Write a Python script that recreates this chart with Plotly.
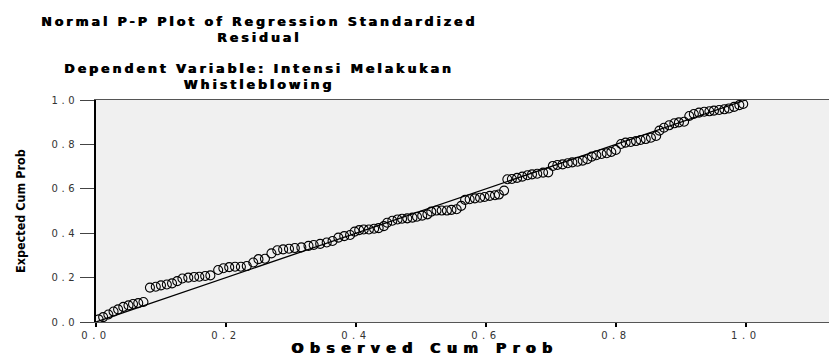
import plotly.graph_objects as go

# Observed cumulative probability of the standardized residuals
observed_cum_prob = [
    0.004, 0.011, 0.019, 0.027, 0.034, 0.042, 0.050, 0.057, 0.065, 0.073,
    0.083, 0.092, 0.100, 0.109, 0.117, 0.125, 0.133, 0.142, 0.151, 0.159,
    0.168, 0.176, 0.188, 0.196, 0.205, 0.214, 0.223, 0.232, 0.242, 0.250,
    0.260, 0.270, 0.279, 0.288, 0.297, 0.306, 0.316, 0.327, 0.335, 0.345,
    0.355, 0.364, 0.373, 0.382,
    0.391, 0.398, 0.405, 0.412, 0.420, 0.428, 0.435, 0.443, 0.448, 0.456,
    0.464, 0.471, 0.479, 0.487, 0.494, 0.502, 0.510, 0.516, 0.524, 0.532,
    0.540, 0.547, 0.555, 0.562, 0.568, 0.575, 0.583, 0.591, 0.598, 0.606,
    0.614, 0.620, 0.628, 0.633, 0.640, 0.648, 0.656, 0.664, 0.671, 0.679,
    0.688, 0.696, 0.703, 0.710, 0.718, 0.726, 0.733, 0.741, 0.749, 0.756,
    0.763, 0.770, 0.778, 0.786, 0.793, 0.800, 0.808, 0.815, 0.823, 0.831,
    0.838, 0.846, 0.854, 0.862, 0.867, 0.874, 0.882, 0.890, 0.897, 0.905,
    0.913, 0.920, 0.928, 0.936, 0.944, 0.951, 0.959, 0.967, 0.974, 0.982,
    0.990, 0.996,
]

# Expected cumulative probability under normality
expected_cum_prob = [
    0.012, 0.022, 0.034, 0.047, 0.057, 0.068, 0.075, 0.081, 0.085, 0.090,
    0.155, 0.159, 0.165, 0.169, 0.174, 0.184, 0.196, 0.200, 0.203, 0.204,
    0.207, 0.210, 0.234, 0.242, 0.247, 0.249, 0.249, 0.252, 0.268, 0.283,
    0.285, 0.309, 0.323, 0.327, 0.330, 0.333, 0.336, 0.343, 0.347, 0.352,
    0.358, 0.365, 0.380, 0.387,
    0.392, 0.407, 0.414, 0.417, 0.417, 0.420, 0.423, 0.432, 0.447, 0.456,
    0.462, 0.465, 0.467, 0.470, 0.474, 0.479, 0.485, 0.497, 0.502, 0.502,
    0.502, 0.505, 0.508, 0.523, 0.550, 0.553, 0.557, 0.560, 0.563, 0.568,
    0.571, 0.574, 0.592, 0.643, 0.644, 0.649, 0.655, 0.661, 0.665, 0.668,
    0.673, 0.674, 0.703, 0.707, 0.710, 0.715, 0.719, 0.722, 0.727, 0.733,
    0.745, 0.751, 0.757, 0.760, 0.766, 0.775, 0.802, 0.808, 0.811, 0.815,
    0.820, 0.824, 0.830, 0.838, 0.862, 0.875, 0.886, 0.895, 0.899, 0.902,
    0.928, 0.937, 0.943, 0.947, 0.949, 0.952, 0.955, 0.958, 0.962, 0.969,
    0.977, 0.982,
]

# Diagonal reference line
diag_x = [0.0, 1.0]
diag_y = [0.0, 1.0]

tick_vals = [0.0, 0.2, 0.4, 0.6, 0.8, 1.0]
tick_labels = ["0.0", "0.2", "0.4", "0.6", "0.8", "1.0"]

title_lines = ["Normal P-P Plot of Regression Standardized", "Residual"]
subtitle_lines = ["Dependent Variable: Intensi Melakukan", "Whistleblowing"]
x_title = "Observed Cum Prob"
y_title = "Expected Cum Prob"


def spaced(text, px):
    """Wrap text so it is drawn with extra letter spacing (wide lettering)."""
    return '<span style="letter-spacing:%spx">%s</span>' % (px, text)


fig = go.Figure()
fig.add_trace(go.Scatter(
    x=diag_x, y=diag_y, mode="lines",
    line=dict(color="black", width=1.3),
    hoverinfo="skip", showlegend=False,
))
fig.add_trace(go.Scatter(
    x=observed_cum_prob, y=expected_cum_prob, mode="markers",
    marker=dict(symbol="circle-open", size=9, color="black",
                line=dict(color="black", width=1.1)),
    showlegend=False,
))

# Plot area spans 100..322 px vertically and starts at 96 px horizontally
PLOT_TOP, PLOT_BOTTOM, PLOT_LEFT, PLOT_W = 100, 322, 96, 733


def py(pixel_y):
    return (PLOT_BOTTOM - pixel_y) / (PLOT_BOTTOM - PLOT_TOP)


def px(pixel_x):
    return (pixel_x - PLOT_LEFT) / PLOT_W


head_font = dict(family="DejaVu Sans", size=12.5, color="black", weight="bold",
                 shadow="0.8px 0px 0px black")
for lines, y_px in [(title_lines, 29.5), (subtitle_lines, 76)]:
    fig.add_annotation(text="<br>".join(spaced(t, 3.0) for t in lines),
                       xref="paper", yref="paper",
                       x=px(259), y=py(y_px), xanchor="center", yanchor="middle",
                       showarrow=False, font=head_font, align="center")

fig.add_annotation(text=spaced(x_title, 6.5), xref="paper", yref="paper",
                   x=px(424), y=py(348), xanchor="center", yanchor="middle",
                   showarrow=False,
                   font=dict(family="DejaVu Sans", size=14, color="black",
                             weight="bold", shadow="1.2px 0px 0px black"))
fig.add_annotation(text=y_title, xref="paper", yref="paper",
                   x=px(20), y=py(211), xanchor="center", yanchor="middle",
                   textangle=-90, showarrow=False,
                   font=dict(family="DejaVu Sans Condensed", size=12.5,
                             color="black", weight="bold"))

fig.update_layout(
    width=829, height=356,
    margin=dict(l=PLOT_LEFT, r=0, t=PLOT_TOP, b=356 - PLOT_BOTTOM),
    paper_bgcolor="white",
    plot_bgcolor="#f0f0f0",
    font=dict(family="DejaVu Sans", color="#222"),
    xaxis=dict(
        range=[0, 1.128], tickvals=tick_vals,
        ticktext=[spaced(t, 4.5) for t in tick_labels],
        showgrid=False, zeroline=False,
        showline=True, linecolor="#555", linewidth=1, mirror=True,
        ticks="outside", ticklen=4, tickcolor="black", tickwidth=2,
        tickfont=dict(family="DejaVu Sans", size=10, color="#333"),
    ),
    yaxis=dict(
        range=[0, 1], tickvals=tick_vals,
        ticktext=[spaced(t, 3.5) for t in tick_labels],
        showgrid=False, zeroline=False,
        showline=True, linecolor="black", linewidth=2,
        ticks="outside", ticklen=14, tickcolor="#444", tickwidth=1,
        tickfont=dict(family="DejaVu Sans", size=10, color="#333"),
    ),
)

fig.write_html("out.html")
